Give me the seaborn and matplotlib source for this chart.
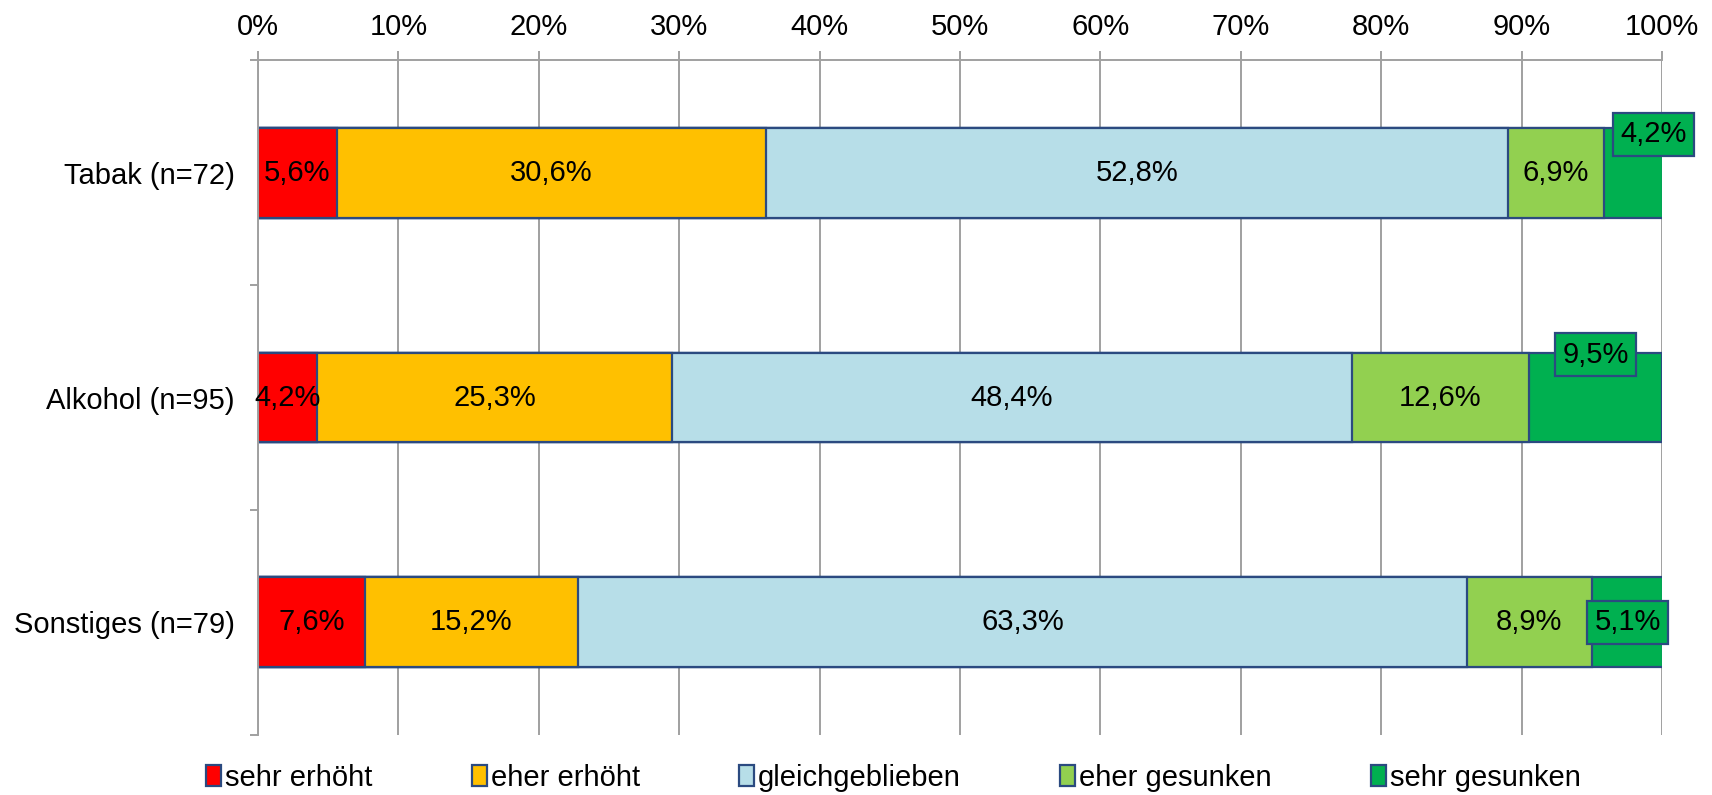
import numpy as np
import pandas as pd
import matplotlib
matplotlib.use('Agg')
import matplotlib.pyplot as plt
from matplotlib.patches import Patch
import seaborn as sns

# data (percent)
categories = ['Tabak (n=72)', 'Alkohol (n=95)', 'Sonstiges (n=79)']
answers = ['sehr erhöht', 'eher erhöht', 'gleichgeblieben', 'eher gesunken', 'sehr gesunken']
sehr_erhoeht = [5.6, 4.2, 7.6]
eher_erhoeht = [30.6, 25.3, 15.2]
gleich = [52.8, 48.4, 63.3]
eher_gesunken = [6.9, 12.6, 8.9]
sehr_gesunken = [4.2, 9.5, 5.1]

colors = ['#FF0000', '#FFC000', '#B7DEE8', '#92D050', '#00B050']
edge = '#2B4A80'
grid_col = '#A0A0A0'
fs = 21

sns.set_style('white')
plt.rcParams['font.family'] = ['Liberation Sans', 'DejaVu Sans']
plt.rcParams['font.size'] = fs
plt.rcParams['text.color'] = 'black'
plt.rcParams['xtick.labelcolor'] = 'black'
plt.rcParams['ytick.labelcolor'] = 'black'

values = np.array([sehr_erhoeht, eher_erhoeht, gleich, eher_gesunken, sehr_gesunken])
cum = values.cumsum(axis=0)

fig = plt.figure(figsize=(17.12, 7.95), dpi=100)
ax = fig.add_axes([0.1507, 0.0755, 0.8201, 0.849])

# stacked bars: draw cumulative totals from the outermost layer inwards
for i in range(len(answers) - 1, -1, -1):
    df = pd.DataFrame({'cat': categories, 'val': cum[i]})
    sns.barplot(data=df, x='val', y='cat', order=categories, orient='h',
                color=colors[i], saturation=1, width=0.4, errorbar=None,
                edgecolor=edge, linewidth=1.6, ax=ax)

# data labels
box_offsets = {0: (1.45, -0.17), 1: (0.0, -0.19), 2: (0.0, 0.0)}
for j in range(len(categories)):
    for i in range(len(answers)):
        left = cum[i, j] - values[i, j]
        xc = left + values[i, j] / 2
        txt = ('%.1f%%' % values[i, j]).replace('.', ',')
        if i == len(answers) - 1:
            dx, dy = box_offsets[j]
            ax.text(min(xc, 97.95) + dx, j + dy, txt, ha='center', va='center',
                    fontsize=fs, color='black', zorder=5,
                    bbox=dict(boxstyle='square,pad=0.25', facecolor=colors[i],
                              edgecolor=edge, linewidth=1.6))
        else:
            ax.text(xc, j, txt, ha='center', va='center', fontsize=fs,
                    color='black', zorder=5)

ax.set_xlim(0, 100)
ax.set_ylim(2.5, -0.5)
ax.set_xlabel('')
ax.set_ylabel('')

# x axis on top with percent ticks and vertical gridlines
ax.xaxis.tick_top()
ax.set_xticks(np.arange(0, 101, 10))
ax.set_xticklabels(['%d%%' % v for v in range(0, 101, 10)])
ax.tick_params(axis='x', top=True, length=6.5, width=1.4, color=grid_col, pad=7,
               labelsize=fs, labelcolor='black')
ax.grid(axis='x', color=grid_col, linewidth=1.4)
ax.set_axisbelow(True)

# category boundaries as ticks, labels at category centres
ax.set_yticks([-0.5, 0.5, 1.5, 2.5])
ax.set_yticklabels([])
ax.set_yticks([0, 1, 2], minor=True)
ax.set_yticklabels(categories, minor=True)
ax.tick_params(axis='y', which='major', left=True, length=6, width=1.4, color=grid_col)
ax.tick_params(axis='y', which='minor', length=0, pad=17, labelsize=fs,
               labelcolor='black')

for s in ['right', 'bottom']:
    ax.spines[s].set_visible(False)
for s in ['top', 'left']:
    ax.spines[s].set_color(grid_col)
    ax.spines[s].set_linewidth(1.4)

handles = [Patch(facecolor=c, edgecolor=edge, linewidth=1.6) for c in colors]
fig.legend(handles, answers, loc='center', bbox_to_anchor=(0.522, 0.022), ncol=5,
           frameon=False, fontsize=fs, handlelength=0.5, handleheight=0.7,
           handletextpad=0.15, columnspacing=3.4, borderaxespad=0,
           labelcolor='black')

fig.savefig('out.png', dpi=100)
